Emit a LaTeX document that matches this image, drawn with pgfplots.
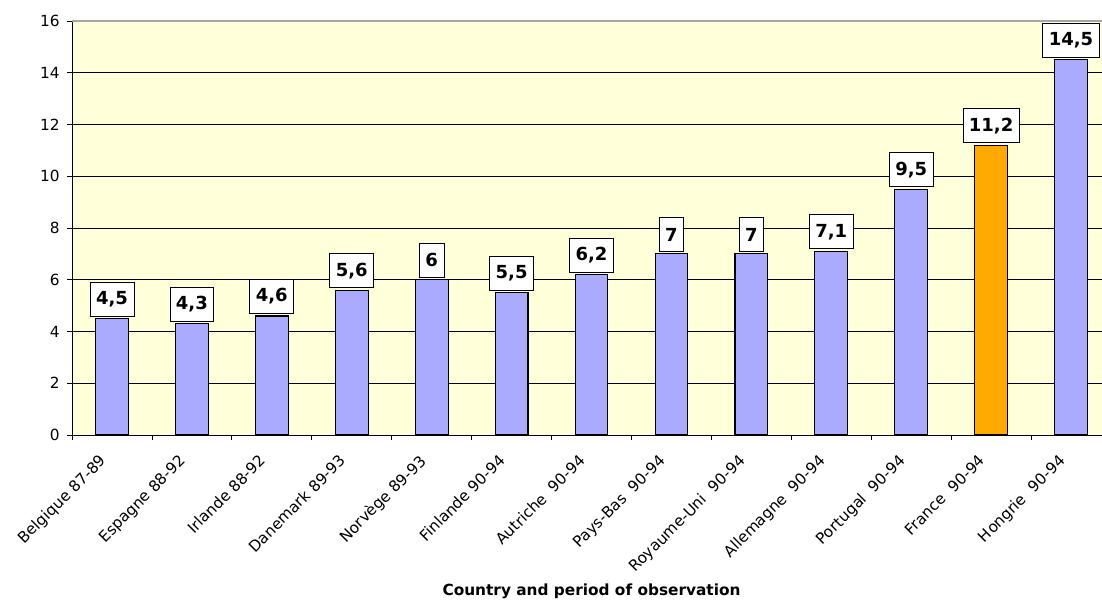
\documentclass[border=0pt]{standalone}
\usepackage{pgfplots}
\pgfplotsset{compat=1.18}
\usepackage{fontspec}
\setmainfont{DejaVu Sans}
\definecolor{bgyellow}{RGB}{255,255,217}
\definecolor{barblue}{RGB}{170,170,255}
\definecolor{barorange}{RGB}{255,170,0}
\begin{document}
\begin{tikzpicture}
\begin{axis}[
  scale only axis,
  width=779.25pt, height=310.5pt,
  xmin=-0.5, xmax=12.5,
  ymin=0, ymax=16,
  axis x line*=bottom, axis y line*=left,
  axis line style={black},
  axis background/.style={fill=bgyellow},
  ytick={0,2,...,16},
  ymajorgrids, grid style={black, line width=0.6pt},
  xtick={0,...,12},
  xticklabels={Belgique 87-89,Espagne 88-92,Irlande 88-92,Danemark 89-93,Norvège 89-93,Finlande 90-94,Autriche\ \ 90-94,Pays-Bas\ \ 90-94,Royaume-Uni\ \ 90-94,Allemagne\ \ 90-94,Portugal\ \ 90-94,France\ \ 90-94,Hongrie\ \ 90-94},
  minor xtick={-0.5,0.5,...,12.5},
  major x tick style={draw=none},
  minor x tick style={draw=black},
  tick align=outside,
  major tick length=3.75pt, minor tick length=3.75pt,
  tick style={black, line width=0.6pt},
  xticklabel style={xshift=-10pt, yshift=-10pt, rotate=45, anchor=north east, font=\fontsize{11.5pt}{13pt}\selectfont, inner sep=0pt},
  yticklabel style={font=\fontsize{11.5pt}{13pt}\selectfont, xshift=-2pt},
  /pgf/number format/assume math mode=true,
  /pgf/number format/use comma,
  xlabel={Country and period of observation},
  xlabel style={at={(axis description cs:0.5,0)}, anchor=center, yshift=-117pt, font=\bfseries\fontsize{11.5pt}{13pt}\selectfont},
  ybar, bar width=0.41, bar shift=0pt,
  nodes near coords,
  every node near coord/.append style={font=\bfseries\fontsize{13.5pt}{15pt}\selectfont, fill=white, draw=black, line width=0.6pt, inner xsep=4.5pt, minimum height=25.5pt, anchor=south, yshift=1.5pt},
]
\addplot[draw=black, line width=0.8pt, fill=barblue] coordinates {
 (0,4.5) (1,4.3) (2,4.6) (3,5.6) (4,6) (5,5.5) (6,6.2) (7,7) (8,7) (9,7.1) (10,9.5) (12,14.5)};
\addplot[draw=black, line width=0.8pt, fill=barorange] coordinates {(11,11.2)};
\draw[gray!70, line width=0.8pt] (axis cs:-0.5,16) -- (axis cs:12.5,16);
\end{axis}
\pgfresetboundingbox
\path[use as bounding box] (-54pt,-126pt) rectangle (772.5pt,326.25pt);
\end{tikzpicture}
\end{document}
